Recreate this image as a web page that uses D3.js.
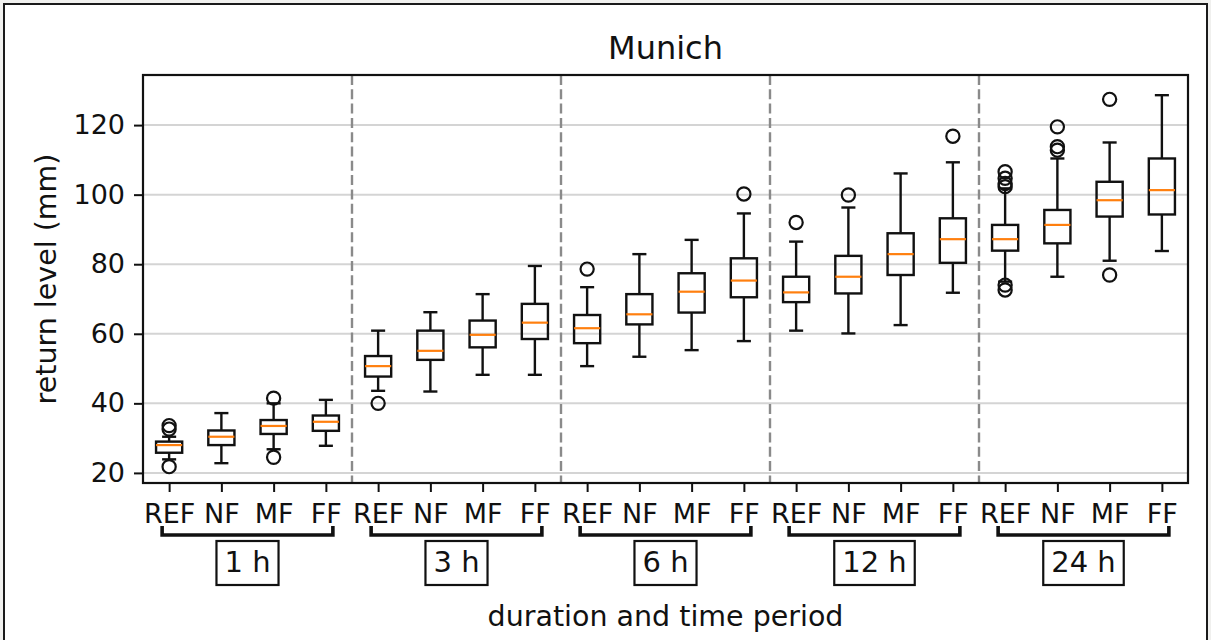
<!DOCTYPE html>
<html>
<head>
<meta charset="utf-8">
<script src="https://cdn.jsdelivr.net/npm/d3@7"></script>
<style>
body { margin: 0; background: #f0f0ee; }
svg { display: block; font-family: "DejaVu Sans", sans-serif; }
</style>
</head>
<body>
<div id="chart"></div>
<script>
var durations = ["1 h", "3 h", "6 h", "12 h", "24 h"];
var periods = ["REF", "NF", "MF", "FF"];

// one entry per box: 1 h REF, NF, MF, FF, then 3 h ... 24 h
var whisk_lo = [23.9, 22.8, 26.8, 27.8, 43.6, 43.4, 48.2, 48.2, 50.7, 53.4, 55.3, 57.9, 60.9, 60.1, 62.5, 71.8, 75.0, 76.4, 81.0, 83.8];
var q1 = [25.8, 28.0, 31.2, 32.1, 47.7, 52.5, 56.1, 58.5, 57.3, 62.7, 66.1, 70.5, 69.1, 71.6, 76.9, 80.4, 83.9, 86.0, 93.7, 94.3];
var medians = [28.0, 30.4, 33.5, 34.7, 50.7, 55.1, 59.7, 63.2, 61.6, 65.6, 72.1, 75.3, 71.9, 76.4, 82.9, 87.2, 87.2, 91.3, 98.4, 101.3];
var q3 = [29.0, 32.2, 35.2, 36.5, 53.6, 60.9, 63.8, 68.6, 65.4, 71.4, 77.4, 81.7, 76.4, 82.4, 88.9, 93.2, 91.3, 95.6, 103.7, 110.4];
var whisk_hi = [30.4, 37.2, 40.0, 41.0, 60.9, 66.2, 71.4, 79.5, 73.4, 82.9, 87.0, 94.6, 86.5, 96.3, 106.1, 109.3, 101.8, 110.4, 115.0, 128.6];
var fliers = [[21.8, 32.6, 33.6], [], [24.5, 41.5], [], [40.0], [], [], [], [78.6], [], [], [100.2],
              [92.0], [99.9], [], [116.8], [72.6, 74.0, 102.3, 103.2, 104.7, 106.6], [112.8, 113.8, 119.5], [76.9, 127.4], []];
var y_ticks = [20, 40, 60, 80, 100, 120];

var w = 1211, h = 640;
var pLeft = 143, pRight = 1188, pTop = 75, pBottom = 483;

var svg = d3.select("#chart")
          .append("svg")
          .attr("width", w)
          .attr("height", h);

// outer frame
svg.append("rect")
   .attr("x", 4).attr("y", 4)
   .attr("width", 1203).attr("height", 660)
   .attr("fill", "#fff")
   .attr("stroke", "#1a1a1a")
   .attr("stroke-width", 2);

var boxes = d3.range(whisk_lo.length).map(function(i) {
  return { pos: i + 1, lo: whisk_lo[i], q1: q1[i], med: medians[i], q3: q3[i], hi: whisk_hi[i], out: fliers[i] };
});

var x = d3.scaleLinear().domain([0.5, boxes.length + 0.5]).range([pLeft, pRight]);
var y = d3.scaleLinear().domain([17.1, 134.4]).range([pBottom, pTop]);
// half of the box width (boxes are 0.5 units wide)
var bw = (x(1) - x(0)) * 0.25;

// grid
svg.append("g").selectAll("line")
   .data(y_ticks).enter().append("line")
   .attr("x1", pLeft).attr("x2", pRight)
   .attr("y1", function(d) { return y(d); })
   .attr("y2", function(d) { return y(d); })
   .attr("stroke", "#d4d4d4")
   .attr("stroke-width", 2);

// separators between durations
svg.append("g").selectAll("line")
   .data(d3.range(1, durations.length)).enter().append("line")
   .attr("x1", function(d) { return x(d * periods.length + 0.5); })
   .attr("x2", function(d) { return x(d * periods.length + 0.5); })
   .attr("y1", pTop).attr("y2", pBottom)
   .attr("stroke", "#8a8a8a")
   .attr("stroke-width", 2.4)
   .attr("stroke-dasharray", "10,4.3");

var g = svg.append("g").selectAll("g")
           .data(boxes).enter().append("g");

g.append("line")
 .attr("x1", function(d) { return x(d.pos); }).attr("x2", function(d) { return x(d.pos); })
 .attr("y1", function(d) { return y(d.hi); }).attr("y2", function(d) { return y(d.q3); })
 .attr("stroke", "#111").attr("stroke-width", 2.4);
g.append("line")
 .attr("x1", function(d) { return x(d.pos); }).attr("x2", function(d) { return x(d.pos); })
 .attr("y1", function(d) { return y(d.lo); }).attr("y2", function(d) { return y(d.q1); })
 .attr("stroke", "#111").attr("stroke-width", 2.4);
// caps
["lo", "hi"].forEach(function(k) {
  g.append("line")
   .attr("x1", function(d) { return x(d.pos) - bw / 2 - 0.5; })
   .attr("x2", function(d) { return x(d.pos) + bw / 2 + 0.5; })
   .attr("y1", function(d) { return y(d[k]); })
   .attr("y2", function(d) { return y(d[k]); })
   .attr("stroke", "#111").attr("stroke-width", 2.4);
});
g.append("rect")
 .attr("x", function(d) { return x(d.pos) - bw; })
 .attr("width", bw * 2)
 .attr("y", function(d) { return y(d.q3); })
 .attr("height", function(d) { return y(d.q1) - y(d.q3); })
 .attr("fill", "none")
 .attr("stroke", "#111").attr("stroke-width", 2.4);
g.append("line")
 .attr("x1", function(d) { return x(d.pos) - bw; })
 .attr("x2", function(d) { return x(d.pos) + bw; })
 .attr("y1", function(d) { return y(d.med); })
 .attr("y2", function(d) { return y(d.med); })
 .attr("stroke", "#ff7f0e").attr("stroke-width", 2.2);
g.selectAll("circle")
 .data(function(d) { return d.out.map(function(v) { return { pos: d.pos, v: v }; }); })
 .enter().append("circle")
 .attr("cx", function(d) { return x(d.pos); })
 .attr("cy", function(d) { return y(d.v); })
 .attr("r", 6.6)
 .attr("fill", "none")
 .attr("stroke", "#111").attr("stroke-width", 2.2);

// axes
var yAxis = svg.append("g")
   .attr("transform", "translate(" + pLeft + ",0)")
   .call(d3.axisLeft(y).tickValues(y_ticks).tickSize(9).tickPadding(9));
var xAxis = svg.append("g")
   .attr("transform", "translate(0," + pBottom + ")")
   .call(d3.axisBottom(x).tickValues(boxes.map(function(d) { return d.pos; }))
         .tickFormat(function(d) { return periods[(d - 1) % periods.length]; })
         .tickSize(9).tickPadding(9));
[yAxis, xAxis].forEach(function(a) {
  a.select(".domain").remove();
  a.selectAll(".tick line").attr("stroke", "#111").attr("stroke-width", 2);
  a.selectAll(".tick text").attr("fill", "#111").style("font-size", "27px")
   .style("font-family", "DejaVu Sans, sans-serif");
});
xAxis.selectAll(".tick text").attr("dy", null).attr("y", 39.5);

// frame of the plot
svg.append("rect")
   .attr("x", pLeft).attr("y", pTop)
   .attr("width", pRight - pLeft).attr("height", pBottom - pTop)
   .attr("fill", "none")
   .attr("stroke", "#111").attr("stroke-width", 2.2);

// duration brackets and labels
durations.forEach(function(dur, i) {
  var x1 = x(i * periods.length + 1) - 7,
      x2 = x(i * periods.length + periods.length) + 7,
      cx = (x1 + x2) / 2;
  svg.append("path")
     .attr("d", "M" + x1 + ",526V535H" + x2 + "V526")
     .attr("fill", "none")
     .attr("stroke", "#111")
     .attr("stroke-width", 3.6);
  var lab = svg.append("g");
  var t = lab.append("text")
     .attr("x", cx).attr("y", 572)
     .attr("text-anchor", "middle")
     .style("font-size", "29px")
     .attr("fill", "#111")
     .text(dur);
  var tw = t.node().getComputedTextLength();
  lab.insert("rect", "text")
     .attr("x", cx - tw / 2 - 8).attr("y", 541)
     .attr("width", tw + 16).attr("height", 44)
     .attr("fill", "#fff")
     .attr("stroke", "#111").attr("stroke-width", 2.2);
});

svg.append("text")
   .attr("x", (pLeft + pRight) / 2).attr("y", 58.5)
   .attr("text-anchor", "middle")
   .style("font-size", "32px")
   .attr("fill", "#111")
   .text("Munich");

svg.append("text")
   .attr("x", (pLeft + pRight) / 2).attr("y", 626)
   .attr("text-anchor", "middle")
   .style("font-size", "28.5px")
   .attr("fill", "#111")
   .text("duration and time period");

svg.append("text")
   .attr("transform", "translate(56," + (pTop + pBottom) / 2 + ") rotate(-90)")
   .attr("text-anchor", "middle")
   .style("font-size", "28.5px")
   .attr("fill", "#111")
   .text("return level (mm)");
</script>
</body>
</html>
